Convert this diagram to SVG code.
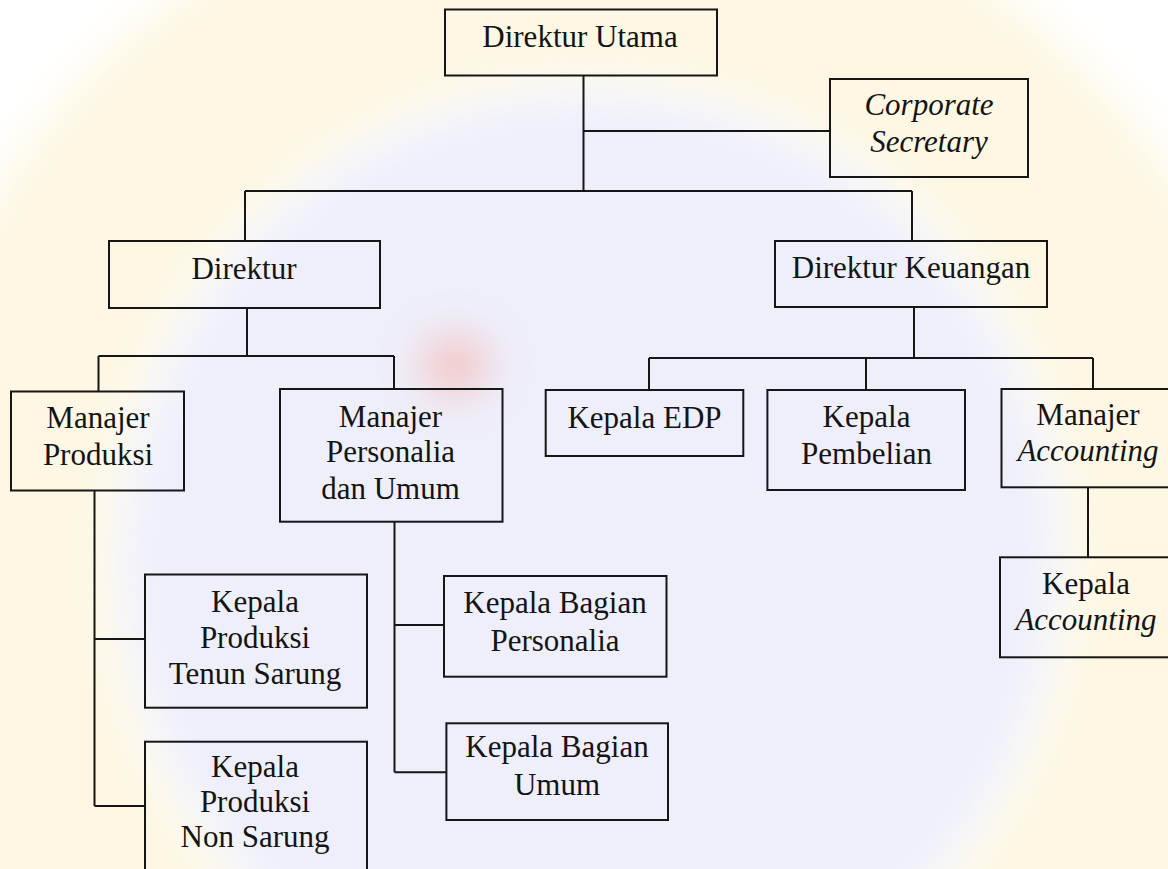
<svg xmlns="http://www.w3.org/2000/svg" width="1168" height="869" viewBox="0 0 1168 869">
<style>
.box{fill:none;stroke:#161616;stroke-width:2}
.ln{fill:none;stroke:#161616;stroke-width:2}
text{font-family:"Liberation Serif","Times New Roman",serif;font-size:31px;fill:#141414;text-anchor:middle}
.it{font-style:italic}
</style>
<defs>
<filter id="blur" x="-20%" y="-20%" width="140%" height="140%"><feGaussianBlur stdDeviation="22"/></filter>
</defs>
<rect width="1168" height="869" fill="#ffffff"/>
<g id="watermark" filter="url(#blur)">
<circle cx="590" cy="560" r="590" fill="none" stroke="#fcf1cc" stroke-width="220" opacity="0.55"/>
<circle cx="590" cy="560" r="465" fill="#e3e5f9" opacity="0.6"/>
<ellipse cx="455" cy="365" rx="34" ry="30" fill="#f4b4aa" opacity="0.75"/>
</g>
<g id="connectors">
<path class="ln" d="M583.5 75.7V191M583.5 131H830M245 191H912M245 191V241M912 191V241"/>
<path class="ln" d="M247 308V356M98.5 356H394M98.5 356V391.5M394 356V389"/>
<path class="ln" d="M914 307V358M649 358H1093M649 358V390M866 358V390M1093 358V389"/>
<path class="ln" d="M94.5 490.7V806M94.5 639H145M94.5 806H145"/>
<path class="ln" d="M394.5 521.7V772.3M394.5 625H444M394.5 772.3H446.4"/>
<path class="ln" d="M1088 487.3V557.3"/>
</g>
<g id="direktur-utama"><rect class="box" x="445" y="9.5" width="272" height="66"/><text x="580" y="47">Direktur Utama</text></g>
<g id="corporate-secretary"><rect class="box" x="830" y="79" width="198" height="98"/><text class="it" x="929" y="115">Corporate</text><text class="it" x="929" y="152">Secretary</text></g>
<g id="direktur"><rect class="box" x="109" y="241" width="271" height="67"/><text x="244" y="279">Direktur</text></g>
<g id="direktur-keuangan"><rect class="box" x="775" y="241" width="272" height="66"/><text x="911" y="278">Direktur Keuangan</text></g>
<g id="manajer-produksi"><rect class="box" x="11" y="391.5" width="173" height="99"/><text x="98" y="428">Manajer</text><text x="98" y="465">Produksi</text></g>
<g id="manajer-personalia"><rect class="box" x="280" y="389" width="222.5" height="132.7"/><text x="390.5" y="427">Manajer</text><text x="390.5" y="462">Personalia</text><text x="390.5" y="499">dan Umum</text></g>
<g id="kepala-edp"><rect class="box" x="545.7" y="390" width="197.6" height="66"/><text x="644.5" y="428">Kepala EDP</text></g>
<g id="kepala-pembelian"><rect class="box" x="767.4" y="390" width="197.6" height="100"/><text x="866.5" y="427">Kepala</text><text x="866.5" y="464">Pembelian</text></g>
<g id="manajer-accounting"><rect class="box" x="1001.5" y="389" width="168" height="98.3"/><text x="1088" y="425">Manajer</text><text class="it" x="1088" y="461">Accounting</text></g>
<g id="kepala-accounting"><rect class="box" x="1000" y="557.3" width="170" height="100"/><text x="1086" y="594">Kepala</text><text class="it" x="1086" y="630">Accounting</text></g>
<g id="kepala-produksi-tenun"><rect class="box" x="145" y="574.5" width="222" height="133.2"/><text x="255" y="612">Kepala</text><text x="255" y="648">Produksi</text><text x="255" y="684">Tenun Sarung</text></g>
<g id="kepala-produksi-non"><rect class="box" x="145" y="741.7" width="222" height="140"/><text x="255" y="777">Kepala</text><text x="255" y="812">Produksi</text><text x="255" y="847">Non Sarung</text></g>
<g id="kepala-bagian-personalia"><rect class="box" x="444" y="576" width="222.5" height="100.7"/><text x="555" y="613">Kepala Bagian</text><text x="555" y="651">Personalia</text></g>
<g id="kepala-bagian-umum"><rect class="box" x="446.4" y="723.3" width="221.6" height="96.7"/><text x="557" y="757">Kepala Bagian</text><text x="557" y="795">Umum</text></g>
</svg>
